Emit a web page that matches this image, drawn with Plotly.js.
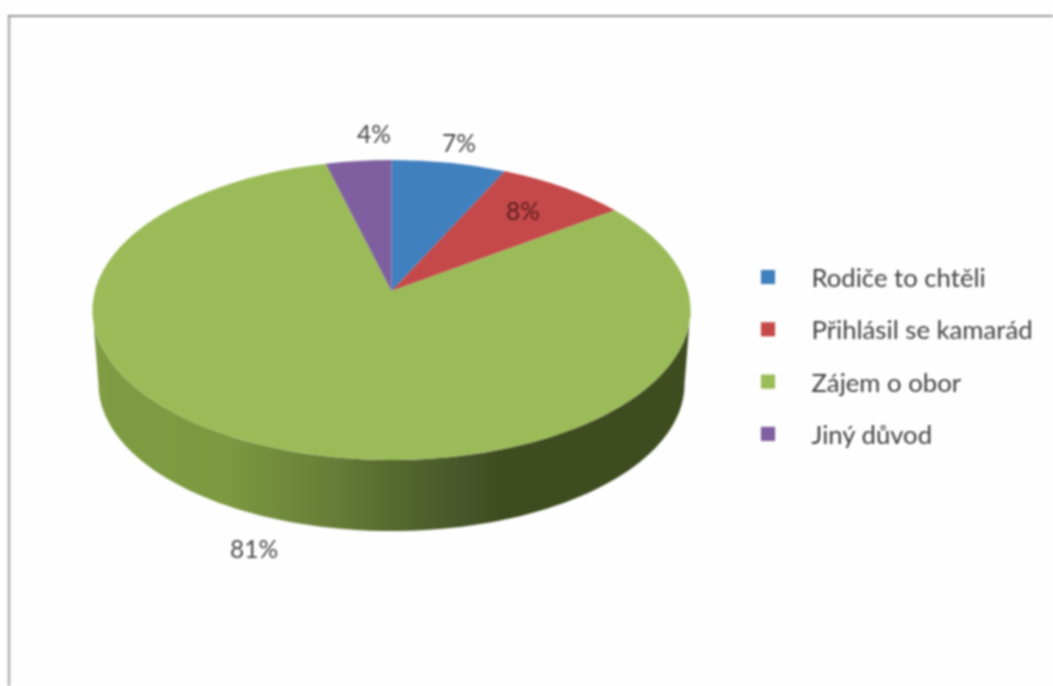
<!DOCTYPE html>
<html>
<head>
<meta charset="utf-8">
<script src="https://cdn.plot.ly/plotly-3.0.1.min.js"></script>
<style>
html,body{margin:0;padding:0;background:#fff;overflow:hidden}
#chart{width:1053px;height:686px;filter:blur(0.8px)}
</style>
</head>
<body>
<div id="chart"></div>
<script>
const categories = ['Rodiče to chtěli', 'Přihlásil se kamarád', 'Zájem o obor', 'Jiný důvod'];
const shares = [7, 8, 81, 4];
const sliceColors = ['#4080be', '#c5494a', '#9bbb59', '#7f5fa0'];

// Drawing geometry (pixels)
const W = 1053, H = 686;
const apex = {x: 391.5, y: 291}, rx = 299, ryUp = 131, ryDown = 169;
const wallBottom = {rx: 293, ry: 147, cy: 384};
const labelPos = [[459, 142], [523, 211], [254, 548], [374, 134]];
const labelColors = ['#484848', '#5a1c1c', '#484848', '#484848'];
const legendPos = {x: 761, y: 277, step: 52.3};

const px = v => v / W, py = v => 1 - v / H;
const ellCy = apex.y + (ryDown - ryUp) / 2, ry = (ryUp + ryDown) / 2;

// Side wall outline: front half of top rim, front half of bottom rim
const wall = [];
for (let t = 0; t <= 180; t += 2) {
  const a = t * Math.PI / 180;
  wall.push([apex.x + rx * Math.cos(a), ellCy + ry * Math.sin(a)]);
}
for (let t = 180; t >= 0; t -= 2) {
  const a = t * Math.PI / 180;
  wall.push([apex.x + wallBottom.rx * Math.cos(a), wallBottom.cy + wallBottom.ry * Math.sin(a)]);
}
const wallPath = 'M' + wall.map(p => px(p[0]).toFixed(5) + ',' + py(p[1]).toFixed(5)).join('L') + 'Z';

const frame = [
  {type:'path', xref:'paper', yref:'paper', layer:'below', path: wallPath, fillcolor:'#6a7d3a', line:{width:0}},
  {type:'line', xref:'paper', yref:'paper', layer:'below', x0:px(9), x1:px(9), y0:py(15), y1:py(H), line:{color:'#b0b0b0', width:2.5}},
  {type:'line', xref:'paper', yref:'paper', layer:'below', x0:px(8), x1:1, y0:py(16), y1:py(16), line:{color:'#969696', width:2}}
];
[64,113,162,210,258,307,356,405,453,502,551,600,649].forEach(y => frame.push(
  {type:'line', xref:'paper', yref:'paper', layer:'below', x0:px(6.5), x1:px(9), y0:py(y), y1:py(y), line:{color:'#d6d6d6', width:1}}
));

const trace = {
  type: 'pie', labels: categories, values: shares, sort: false, direction: 'clockwise', rotation: 0,
  marker: {colors: sliceColors, line: {width: 0}},
  textinfo: 'none', hoverinfo: 'label+percent',
  domain: {x: [px(92), px(690)], y: [py(460), py(160)]}
};

const layout = {
  width: W, height: H, margin: {l:0, r:0, t:0, b:0},
  paper_bgcolor: '#fefefe', plot_bgcolor: '#fefefe',
  showlegend: true,
  legend: {x: px(761), y: py(270), xanchor:'left', yanchor:'top', traceorder:'normal',
           font:{family:'Lato', size:25.7, color:'#404040'}, bgcolor:'rgba(0,0,0,0)', itemwidth:30},
  shapes: frame,
  annotations: shares.map((v, i) => ({
    xref:'paper', yref:'paper', x:px(labelPos[i][0]), y:py(labelPos[i][1]), xanchor:'center', yanchor:'middle',
    showarrow:false, text: v + '%', font:{family:'Lato', size:24.5, color:labelColors[i]}
  }))
};

Plotly.newPlot('chart', [trace], layout, {displayModeBar:false, staticPlot:true}).then(gd => {
  const svg = gd.querySelector('.main-svg');
  const NS = 'http://www.w3.org/2000/svg';

  // Wall shading
  const defs = svg.querySelector('defs') || svg.insertBefore(document.createElementNS(NS,'defs'), svg.firstChild);
  const g = document.createElementNS(NS, 'linearGradient');
  g.setAttribute('id','wallShade'); g.setAttribute('gradientUnits','userSpaceOnUse');
  g.setAttribute('x1', apex.x - rx); g.setAttribute('x2', apex.x + rx); g.setAttribute('y1',0); g.setAttribute('y2',0);
  [[0,'#7f9c44'],[0.22,'#7c9a40'],[0.39,'#697f39'],[0.5,'#566a2e'],[0.62,'#47562a'],[0.68,'#3f4c20'],[1,'#3f4c20']].forEach(s => {
    const st = document.createElementNS(NS,'stop');
    st.setAttribute('offset', s[0]); st.setAttribute('stop-color', s[1]); g.appendChild(st);
  });
  defs.appendChild(g);
  const wallEl = gd.querySelector('.layer-below .shapelayer path[data-index="0"]') || gd.querySelector('.layer-below .shapelayer path');
  wallEl.style.fill = 'url(#wallShade)';

  // Perspective projection of the library's slice angles onto the tilted disc
  const c = (ryDown - ryUp) / (ryDown + ryUp), a = ryUp * (1 + c), dd = rx * Math.sqrt(1 - c * c);
  const proj = p => {
    const n = Math.hypot(p[0], p[1]), u = p[0] / n, v = -p[1] / n, k = 1 + c * v;
    return [apex.x + dd * u / k, apex.y - a * v / k];
  };
  gd.querySelectorAll('.pielayer .slice path.surface').forEach(el => {
    const d = el.__data__;
    const p0 = proj(d.px0), p1 = proj(d.px1);
    el.setAttribute('d', `M${apex.x},${apex.y}L${p0[0]},${p0[1]}A${rx},${ry} 0 ${d.largeArc} 1 ${p1[0]},${p1[1]}Z`);
  });

  // Legend placement
  const leg = gd.querySelector('.legend');
  leg.setAttribute('transform', `translate(${legendPos.x - 7},${legendPos.y - 13})`);
  const box = leg.querySelector('.scrollbox');
  box.removeAttribute('clip-path'); box.setAttribute('transform','');
  leg.querySelectorAll('.traces').forEach((t, i) => {
    t.setAttribute('transform', `translate(0,${13 + i * legendPos.step})`);
    const txt = t.querySelector('.legendtext');
    if (txt) { txt.setAttribute('x', 57.5); }
  });
  leg.querySelectorAll('path.legendpie').forEach(el => {
    el.setAttribute('transform', 'translate(14,0) scale(1.18)');
  });
});
</script>
</body>
</html>
